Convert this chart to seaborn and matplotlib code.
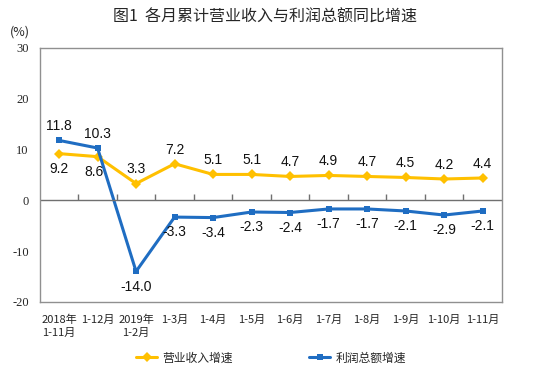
import matplotlib
matplotlib.use("Agg")
import matplotlib.pyplot as plt
import numpy as np
import pandas as pd
import seaborn as sns

months = ["2018年\n1-11月", "1-12月", "2019年\n1-2月", "1-3月", "1-4月", "1-5月",
          "1-6月", "1-7月", "1-8月", "1-9月", "1-10月", "1-11月"]
revenue = [9.2, 8.6, 3.3, 7.2, 5.1, 5.1, 4.7, 4.9, 4.7, 4.5, 4.2, 4.4]
profit = [11.8, 10.3, -14.0, -3.3, -3.4, -2.3, -2.4, -1.7, -1.7, -2.1, -2.9, -2.1]
yticks = [-20, -10, 0, 10, 20, 30]

df = pd.DataFrame({"pos": np.arange(len(months)), "营业收入增速": revenue, "利润总额增速": profit})

sns.set_theme(style="white")
plt.rcParams["font.family"] = ["Noto Sans CJK SC", "DejaVu Sans"]

fig = plt.figure(figsize=(5.45, 3.75), dpi=100)
ax = fig.add_axes([0.073, 0.195, 0.848, 0.677])

orange = "#FFC000"
blue = "#1F6DC2"
sns.lineplot(data=df, x="pos", y="营业收入增速", ax=ax, color=orange, lw=2.2,
             marker="D", markersize=5.5, markeredgewidth=0, label="营业收入增速")
sns.lineplot(data=df, x="pos", y="利润总额增速", ax=ax, color=blue, lw=2.2,
             marker="s", markersize=5, markeredgewidth=0, label="利润总额增速")

lab_font = dict(family=["Liberation Sans"], fontsize=10, color="#111111", ha="center")
for i, (r, p) in enumerate(zip(revenue, profit)):
    if i < 2:
        ax.text(i - 0.1 * i, r - 1.6, f"{r:.1f}", va="top", **lab_font)
        ax.text(i, p + 1.4, f"{p:.1f}", va="bottom", **lab_font)
    else:
        ax.text(i, r + 1.4, f"{r:.1f}", va="bottom", **lab_font)
        ax.text(i, p - 1.6, f"{p:.1f}", va="top", **lab_font)

ax.axhline(0, color="#707070", lw=1)
ax.vlines(np.arange(0.5, len(months) - 1, 1), 0, 1.2, color="#707070", lw=1)

ax.set_xlim(-0.5, len(months) - 0.5)
ax.set_ylim(-20, 30)
ax.set_yticks(yticks)
ax.set_yticklabels([str(t) for t in yticks], family=["Liberation Serif"], fontsize=9)
ax.set_xticks(df["pos"])
ax.set_xticklabels(months, fontsize=8, linespacing=1.35)
ax.tick_params(axis="x", length=0, pad=9)
ax.tick_params(axis="y", length=0, pad=8)
ax.set_xlabel("")
ax.set_ylabel("")
for s in ax.spines.values():
    s.set_color("#909090")
    s.set_linewidth(1)

fig.text(0.037, 0.905, "(%)", fontsize=9, ha="center")
fig.text(0.487, 0.955, "图1  各月累计营业收入与利润总额同比增速", fontsize=11.5, ha="center", va="center")

ax.legend_.remove()
handles, labels = ax.get_legend_handles_labels()
fig.legend(handles, labels, loc="center", bbox_to_anchor=(0.497, 0.045), ncol=2, frameon=False,
           fontsize=8.5, handlelength=1.8, handletextpad=0.4, columnspacing=6.5)

fig.savefig("out.png", dpi=100)
